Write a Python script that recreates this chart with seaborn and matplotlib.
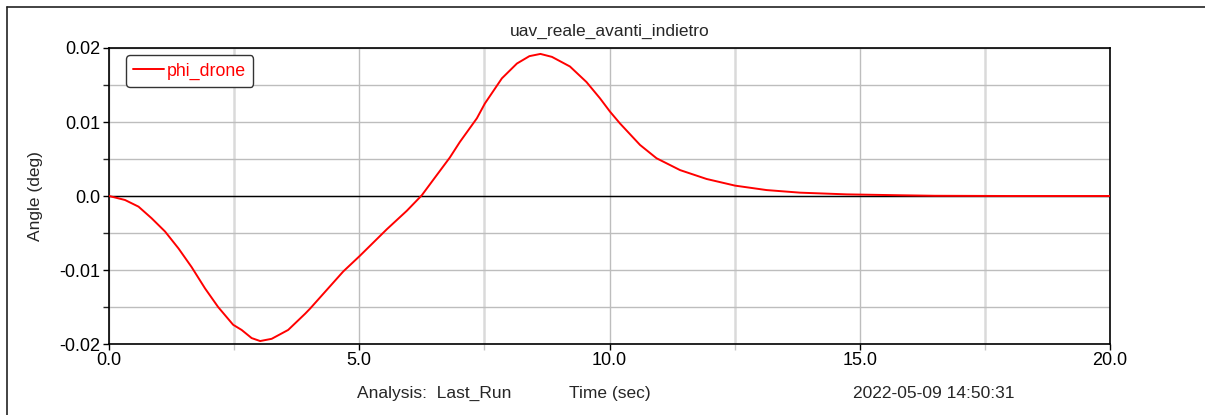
import numpy as np
import pandas as pd
import matplotlib
matplotlib.use("Agg")
import matplotlib.pyplot as plt
import seaborn as sns
from matplotlib.lines import Line2D
from matplotlib.ticker import MultipleLocator, FormatStrFormatter, FuncFormatter

# Data
time_s = [0.0, 0.12, 0.32, 0.59, 0.85, 1.12, 1.39, 1.65, 1.92, 2.18, 2.48, 2.65, 2.85,
          3.02, 3.25, 3.58, 3.92, 4.02, 4.35, 4.68, 5.01, 5.55, 5.95, 6.25, 6.48, 6.81,
          7.01, 7.35, 7.51, 7.85, 8.15, 8.4, 8.62, 8.85, 9.21, 9.54, 9.81, 10.01, 10.21,
          10.61, 10.94, 11.41, 11.94, 12.51, 13.14, 13.81, 14.74, 15.8, 16.5, 18.0, 20.0]
phi_drone = [0.0, -0.0002, -0.00054, -0.00144, -0.0030, -0.0048, -0.0071, -0.0096,
             -0.0125, -0.0150, -0.0174, -0.0181, -0.0192, -0.0196, -0.0193, -0.0181,
             -0.0159, -0.0152, -0.0127, -0.0102, -0.0081, -0.0045, -0.0020, 0.0001,
             0.0022, 0.0052, 0.0073, 0.0105, 0.0125, 0.0159, 0.0179, 0.0189, 0.0192,
             0.0188, 0.0175, 0.0154, 0.0132, 0.0114, 0.0098, 0.0069, 0.0051, 0.0035,
             0.0023, 0.0014, 0.0008, 0.00045, 0.00022, 0.0001, 0.00003, 0.0, 0.0]

series_name = "phi_drone"
title = "uav_reale_avanti_indietro"
y_label = "Angle (deg)"
x_label = "Time (sec)"
analysis_label = "Analysis:  Last_Run"
timestamp = "2022-05-09 14:50:31"

sns.set_style("white")
plt.rcParams["font.family"] = ["Liberation Sans", "DejaVu Sans"]

df = pd.DataFrame({"t": time_s, "phi": phi_drone, "series": series_name})

W, H = 1205, 415
fig = plt.figure(figsize=(W / 100, H / 100), dpi=100)
ax = fig.add_axes([109 / W, 1 - 344 / H, (1110 - 109) / W, (344 - 48) / H])

sns.lineplot(data=df, x="t", y="phi", hue="series", palette=["#ff0000"], ax=ax,
             linewidth=1.4, legend=True, zorder=5)

ax.set_xlim(0, 20)
ax.set_ylim(-0.02, 0.02)
ax.xaxis.set_major_locator(MultipleLocator(5))
ax.xaxis.set_minor_locator(MultipleLocator(2.5))
ax.yaxis.set_major_locator(MultipleLocator(0.01))
ax.yaxis.set_minor_locator(MultipleLocator(0.005))
ax.xaxis.set_major_formatter(FormatStrFormatter("%.1f"))

def yfmt(v, pos):
    if abs(v) < 1e-12:
        return "0.0"
    return f"{v:.2f}"
ax.yaxis.set_major_formatter(FuncFormatter(yfmt))

ax.grid(which="major", axis="both", color="#bdbdbd", linewidth=1.0)
ax.grid(which="minor", axis="y", color="#bdbdbd", linewidth=1.0)
ax.grid(which="minor", axis="x", color="#dadada", linewidth=1.8)
ax.axhline(0, color="black", linewidth=1.0, zorder=4)

ax.tick_params(axis="both", which="major", direction="out", length=4, width=1,
               labelsize=13, colors="black", pad=2, left=True, bottom=True)
ax.tick_params(axis="both", which="minor", direction="out", length=4, width=1,
               left=True, bottom=True)
ax.tick_params(axis="x", which="minor", color="#c8c8c8")
for s in ax.spines.values():
    s.set_color("black")
    s.set_linewidth(1.2)

ax.set_xlabel("")
ax.set_ylabel(y_label, fontsize=12.5, labelpad=12)
ax.set_title(title, fontsize=12.5, pad=9)

leg = ax.legend(loc="upper left", bbox_to_anchor=(0.017, 0.975), fontsize=12.8,
                handlelength=1.75, handletextpad=0.15, borderpad=0.4,
                borderaxespad=0.0, frameon=True, fancybox=True, framealpha=1,
                edgecolor="#333333")
leg.get_frame().set_linewidth(1.0)
for txt in leg.get_texts():
    txt.set_color("#ff0000")

fig.text(357 / W, 1 - 393 / H, analysis_label, fontsize=12.5, va="center", ha="left")
fig.text(610 / W, 1 - 393 / H, x_label, fontsize=12.5, va="center", ha="center")
fig.text(853 / W, 1 - 393 / H, timestamp, fontsize=12.5, va="center", ha="left")

# Outer frame (left and top edges visible)
fig.add_artist(Line2D([7 / W, 7 / W], [0, 1 - 7 / H], transform=fig.transFigure,
                      color="#222222", linewidth=1.2))
fig.add_artist(Line2D([7 / W, 1], [1 - 7 / H, 1 - 7 / H], transform=fig.transFigure,
                      color="#222222", linewidth=1.2))

fig.savefig("out.png", dpi=100)
